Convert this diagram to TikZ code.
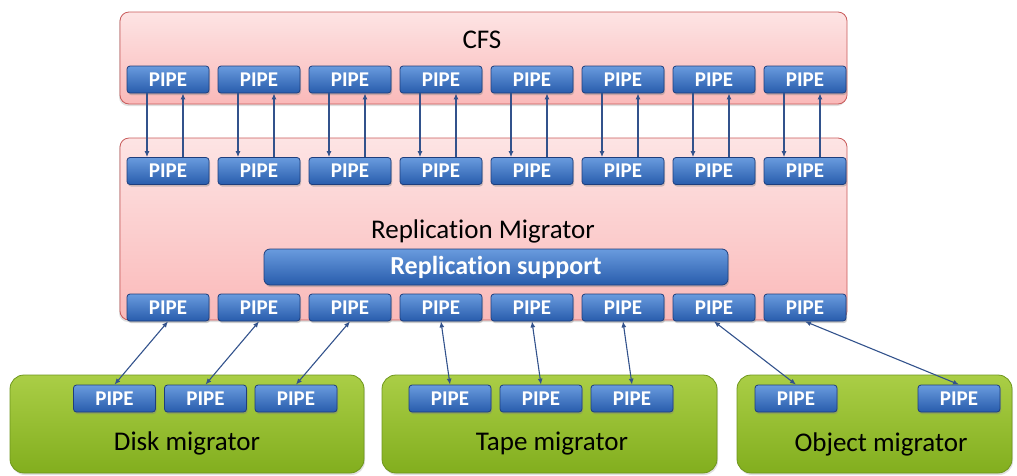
\documentclass[tikz,border=0pt]{standalone}
\usepackage{fontspec}
\setmainfont{Carlito}[Ligatures=NoCommon]
\usetikzlibrary{arrows.meta,shadows}

\definecolor{pipetop}{RGB}{105,155,222}
\definecolor{pipemid}{RGB}{65,120,200}
\definecolor{pipebot}{RGB}{40,92,172}
\definecolor{pipeedge}{RGB}{30,62,125}
\definecolor{pinktop}{RGB}{253,228,228}
\definecolor{pinkbot}{RGB}{250,185,185}
\definecolor{pinkedge}{RGB}{200,90,90}
\definecolor{greentop}{RGB}{170,206,70}
\definecolor{greenbot}{RGB}{130,174,30}
\definecolor{greenedge}{RGB}{110,150,28}
\definecolor{linkcol}{RGB}{50,82,140}

\tikzset{
  pipe/.style={rounded corners=3pt, draw=pipeedge, line width=0.8pt,
    top color=pipetop, middle color=pipemid, bottom color=pipebot,
    minimum width=82pt, minimum height=27pt, inner sep=0pt,
    text=white, font=\fontsize{21}{21}\selectfont\bfseries,
    drop shadow={opacity=0.4, shadow xshift=1pt, shadow yshift=-2pt}},
  supportbar/.style={pipe, rounded corners=6pt, minimum width=464pt,
    minimum height=36pt, font=\fontsize{26}{26}\selectfont\bfseries},
  pinkbox/.style={rounded corners=9pt, draw=pinkedge, line width=0.8pt,
    top color=pinktop, bottom color=pinkbot, inner sep=0pt,
    drop shadow={opacity=0.25, shadow xshift=-1pt, shadow yshift=-2pt}},
  greenbox/.style={rounded corners=14pt, draw=greenedge, line width=0.8pt,
    top color=greentop, bottom color=greenbot, inner sep=0pt,
    drop shadow={opacity=0.25, shadow xshift=1pt, shadow yshift=-2pt}},
  caption/.style={font=\fontsize{27}{27}\selectfont, text=black, inner sep=0pt},
  link/.style={draw=linkcol, line width=1.1pt,
    arrows={-Latex[length=6pt,width=5pt]}},
  biglink/.style={link, arrows={Latex[length=6pt,width=5pt]-Latex[length=6pt,width=5pt]}}
}

\begin{document}
\begin{tikzpicture}[x=1pt,y=-1pt]
  \useasboundingbox (0,0) rectangle (1017,475);

  % containers
  \node[pinkbox, minimum width=727pt, minimum height=92pt] (cfs) at (483.5,58) {};
  \node[pinkbox, minimum width=727pt, minimum height=182pt] (rm) at (483.5,229) {};
  \node[greenbox, minimum width=354pt, minimum height=98pt] (disk) at (187,424) {};
  \node[greenbox, minimum width=335pt, minimum height=98pt] (tape) at (549.5,424) {};
  \node[greenbox, minimum width=275pt, minimum height=98pt] (obj) at (874.5,424) {};

  % captions
  \node[caption] (cfslabel) at (482,40) {CFS};
  \node[caption] (rmlabel) at (483,231) {Replication Migrator};
  \node[caption] (disklabel) at (187,443) {Disk migrator};
  \node[caption] (tapelabel) at (552,444) {Tape migrator};
  \node[caption] (objlabel) at (881,444) {Object migrator};

  \node[supportbar] (support) at (496,267) {Replication support};

  % pipe rows
  \foreach \i in {1,...,8} {
    \node[pipe] (c\i) at ({168+91*(\i-1)},79.5) {PIPE};
    \node[pipe] (r\i) at ({168+91*(\i-1)},171) {PIPE};
    \node[pipe] (b\i) at ({168+91*(\i-1)},307.5) {PIPE};
  }
  \foreach \i/\x in {1/114.5,2/205.5,3/296} \node[pipe] (d\i) at (\x,398.5) {PIPE};
  \foreach \i/\x in {1/450,2/541,3/632} \node[pipe] (t\i) at (\x,398.5) {PIPE};
  \foreach \i/\x in {1/796,2/959} \node[pipe] (o\i) at (\x,398.5) {PIPE};

  % CFS <-> replication migrator
  \foreach \i in {1,...,8} {
    \draw[link] ([xshift=-21pt]c\i.south) -- ([xshift=-21pt]r\i.north);
    \draw[link] ([xshift=15pt]r\i.north) -- ([xshift=15pt]c\i.south);
  }

  % replication migrator <-> migrators
  \draw[biglink] (b1.south) -- (d1.north);
  \draw[biglink] (b2.south) -- (d2.north);
  \draw[biglink] (b3.south) -- (d3.north);
  \draw[biglink] (b4.south) -- (t1.north);
  \draw[biglink] (b5.south) -- (t2.north);
  \draw[biglink] (b6.south) -- (t3.north);
  \draw[biglink] (b7.south) -- (o1.north);
  \draw[biglink] (b8.south) -- (o2.north);
\end{tikzpicture}
\end{document}
